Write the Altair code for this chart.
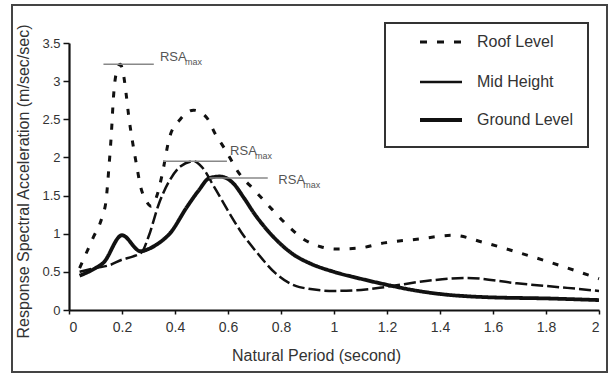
import altair as alt
import pandas as pd

FONT = "Liberation Sans, Arial, Helvetica, sans-serif"
SERIES = ["Roof Level", "Mid Height", "Ground Level"]

# Roof Level (dotted)
roof_x = [0.04, 0.09, 0.125, 0.14, 0.15, 0.16, 0.168, 0.178, 0.193, 0.205, 0.215, 0.225,
          0.24, 0.255, 0.27, 0.29, 0.31, 0.33, 0.35, 0.38, 0.42, 0.47, 0.52, 0.55, 0.59,
          0.64, 0.70, 0.75, 0.83, 0.88, 0.95, 1.01, 1.09, 1.19, 1.32, 1.45, 1.56, 1.69,
          1.82, 2.0]
roof_y = [0.55, 0.94, 1.22, 1.44, 1.84, 2.32, 2.8, 3.1, 3.22, 3.1, 2.85, 2.55,
          2.2, 1.9, 1.62, 1.44, 1.36, 1.48, 1.75, 2.27, 2.5, 2.62, 2.52, 2.32, 2.1,
          1.8, 1.57, 1.38, 1.09, 0.94, 0.83, 0.80, 0.81, 0.88, 0.93, 0.98, 0.89, 0.76,
          0.62, 0.41]

# Mid Height (long dashes)
mid_x = [0.04, 0.1, 0.155, 0.2, 0.24, 0.275, 0.3, 0.34, 0.38, 0.42, 0.47, 0.5, 0.55,
         0.6, 0.65, 0.71, 0.78, 0.87, 1.0, 1.12, 1.19, 1.37, 1.5, 1.69, 1.88, 2.0]
mid_y = [0.5, 0.55, 0.59, 0.66, 0.70, 0.76, 0.96, 1.4, 1.7, 1.88, 1.95, 1.88, 1.6,
         1.3, 1.02, 0.75, 0.48, 0.30, 0.25, 0.27, 0.30, 0.39, 0.42, 0.35, 0.29, 0.25]

# Ground Level (thick solid)
ground_x = [0.04, 0.1, 0.13, 0.2, 0.27, 0.3, 0.34, 0.38, 0.445, 0.49, 0.53, 0.57, 0.62,
            0.66, 0.70, 0.75, 0.80, 0.85, 0.91, 1.0, 1.1, 1.2, 1.3, 1.4, 1.56, 1.82, 2.0]
ground_y = [0.45, 0.55, 0.62, 0.98, 0.77, 0.8, 0.88, 1.0, 1.35, 1.57, 1.73, 1.75, 1.66,
            1.47, 1.26, 1.04, 0.86, 0.72, 0.61, 0.50, 0.41, 0.33, 0.26, 0.21, 0.17, 0.15,
            0.13]

# RSA_max annotations
ann_line_x1 = [0.13, 0.355, 0.53]
ann_line_x2 = [0.32, 0.596, 0.75]
ann_line_y = [3.22, 1.95, 1.73]
ann_text_x = [0.343, 0.608, 0.79]
ann_text_y = [3.31, 2.09, 1.71]
ann_main = ["RSA", "RSA", "RSA"]
ann_sub = ["max", "max", "max"]

x_ticks = [0, 0.2, 0.4, 0.6, 0.8, 1.0, 1.2, 1.4, 1.6, 1.8, 2.0]
y_ticks = [0, 0.5, 1.0, 1.5, 2.0, 2.5, 3.0, 3.5]

# line styles per series
DASHES = [[6, 10], [12, 4], [1, 0]]
WIDTHS = [3, 2.5, 3.8]
LEGEND_WIDTHS = [3, 2.5, 3.8]
LEGEND_DASHES = [[7, 10], [1, 0], [1, 0]]

rows = []
for name, xs, ys in [("Roof Level", roof_x, roof_y),
                     ("Mid Height", mid_x, mid_y),
                     ("Ground Level", ground_x, ground_y)]:
    for xv, yv in zip(xs, ys):
        rows.append({"series": name, "period": xv, "rsa": yv})
df = pd.DataFrame(rows)

ann = pd.DataFrame({"x1": ann_line_x1, "x2": ann_line_x2, "y": ann_line_y,
                    "tx": ann_text_x, "ty": ann_text_y,
                    "main": ann_main, "sub": ann_sub})

W, H = 530, 267

x_scale = alt.Scale(domain=[0, 2], nice=False, zero=False)
y_scale = alt.Scale(domain=[0, 3.5], nice=False)

X_TITLE = "Natural Period (second)"
Y_TITLE = "Response Spectral Acceleration (m/sec/sec)"

x_axis = alt.Axis(values=x_ticks, format="~g", title=X_TITLE,
                  titleX=247, titleY=45, titleBaseline="middle", titleAlign="center",
                  labelPadding=6, tickSize=4, labelFontSize=14, titleFontSize=16,
                  zindex=1, labelOverlap=False)
y_axis = alt.Axis(values=y_ticks, format="~g", title=Y_TITLE,
                  titleX=-46, titleY=138, titleAngle=270, titleBaseline="middle",
                  titleAlign="center", labelPadding=3, tickSize=6,
                  labelFontSize=13, titleFontSize=16, zindex=1, labelOverlap=False)


def X(field):
    return alt.X(field, scale=x_scale, axis=x_axis, title=X_TITLE)


def Y(field):
    return alt.Y(field, scale=y_scale, axis=y_axis, title=Y_TITLE)


frame = alt.Chart(ann).mark_rect(filled=False, stroke="#444", strokeWidth=2).encode(
    x=alt.value(-57), x2=alt.value(538), y=alt.value(-38), y2=alt.value(329)
)

lines = alt.Chart(df).mark_line(color="#111", interpolate="monotone").encode(
    x=X("period:Q"),
    y=Y("rsa:Q"),
    strokeDash=alt.StrokeDash("series:N",
                              scale=alt.Scale(domain=SERIES, range=DASHES),
                              legend=None),
    strokeWidth=alt.StrokeWidth("series:N",
                                scale=alt.Scale(type="ordinal", domain=SERIES,
                                                range=WIDTHS),
                                legend=None),
)

rules = alt.Chart(ann).mark_rule(color="#888", strokeWidth=1.5).encode(
    x=X("x1:Q"), x2="x2:Q", y=Y("y:Q")
)

main_text = alt.Chart(ann).mark_text(align="left", baseline="middle", fontSize=13,
                                     color="#555", font=FONT).encode(
    x=X("tx:Q"), y=Y("ty:Q"), text="main:N"
)
sub_text = alt.Chart(ann).mark_text(align="left", baseline="middle", fontSize=9,
                                    color="#555", font=FONT, dx=25, dy=5).encode(
    x=X("tx:Q"), y=Y("ty:Q"), text="sub:N"
)

# legend (box + entries)
legend_box = alt.Chart(ann).mark_rect(fill="white", stroke="#333", strokeWidth=2).encode(
    x=alt.value(316), x2=alt.value(519), y=alt.value(-20), y2=alt.value(104)
)
legend_layers = [legend_box]
ROW_Y = [-1, 39, 77]
for i, name in enumerate(SERIES):
    src = pd.DataFrame({"series": [name]})
    legend_layers.append(
        alt.Chart(src).mark_rule(color="#111", strokeWidth=LEGEND_WIDTHS[i],
                                 strokeDash=LEGEND_DASHES[i]).encode(
            x=alt.value(351), x2=alt.value(393), y=alt.value(ROW_Y[i])
        )
    )
    legend_layers.append(
        alt.Chart(src).mark_text(align="left", baseline="middle", fontSize=16,
                                 color="#333", font=FONT).encode(
            x=alt.value(408), y=alt.value(ROW_Y[i]), text="series:N"
        )
    )

chart = alt.layer(frame, lines, rules, main_text, sub_text, *legend_layers).properties(
    width=W, height=H,
    padding={"left": 69, "top": 43, "right": 10, "bottom": 64},
    autosize=alt.AutoSizeParams(type="none"),
).configure_view(stroke=None).configure_axis(
    grid=False, domainColor="#111", domainWidth=2.2, tickColor="#111", tickWidth=1.5,
    labelColor="#333", titleColor="#333", labelFont=FONT, titleFont=FONT,
    titleFontWeight="normal",
)

chart.save("out.html", embed_options={"renderer": "svg", "actions": False})
